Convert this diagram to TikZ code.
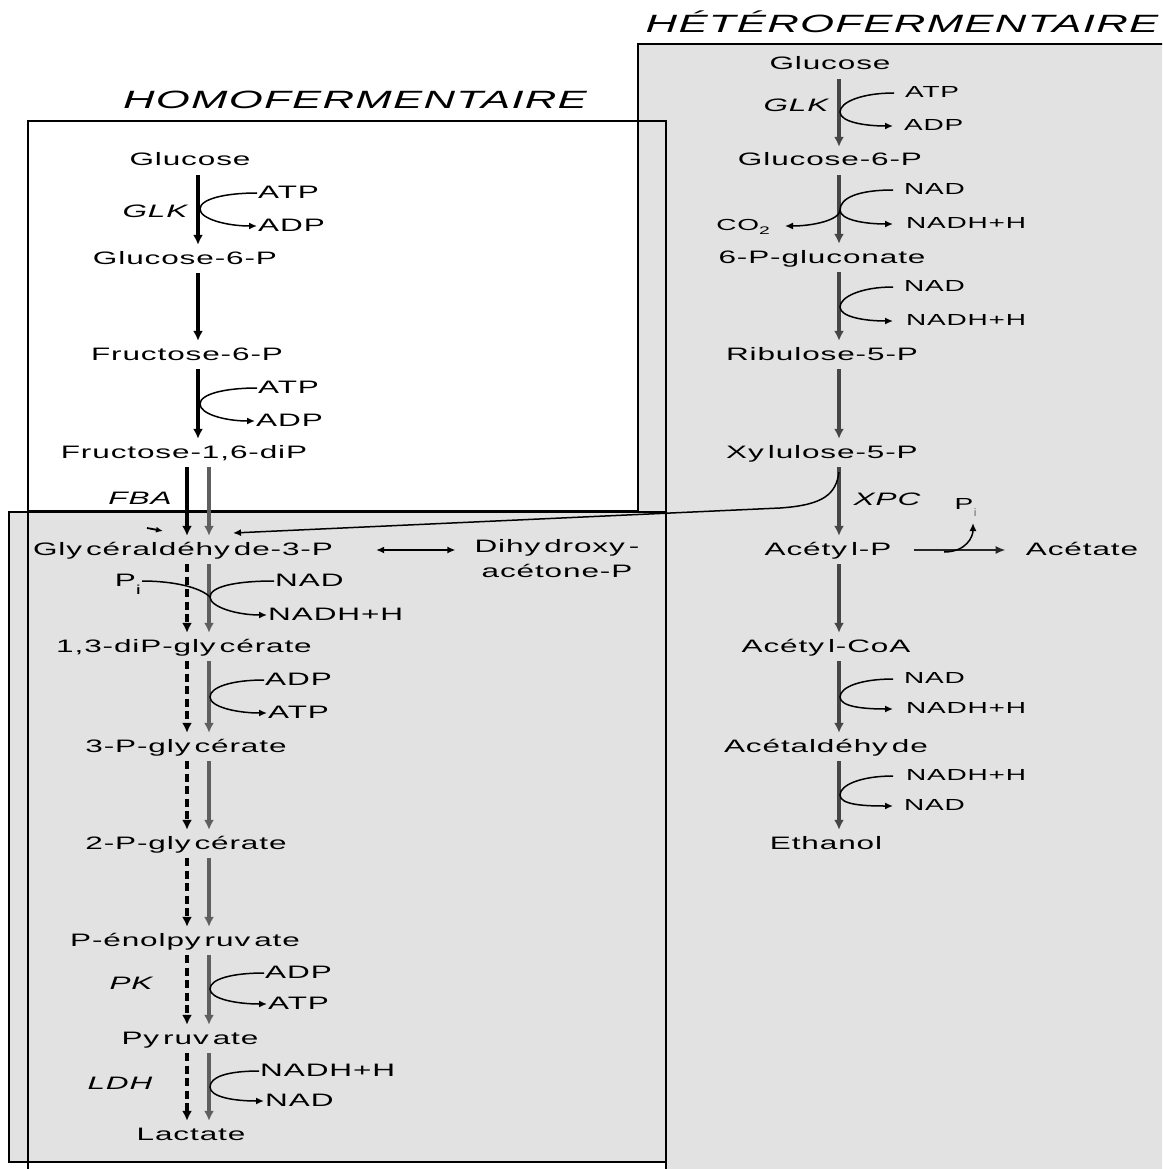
\documentclass[tikz,border=0pt]{standalone}
\usepackage{fontspec}
\usetikzlibrary{arrows.meta}
\newfontfamily\mf[FakeStretch=1.75,LetterSpace=5]{Liberation Sans}
\definecolor{boxgray}{RGB}{226,226,226}
\definecolor{arrgray}{RGB}{95,95,95}
\definecolor{hetgray}{RGB}{70,70,70}
\newcommand{\yg}{\hspace{4pt}}
\newcommand{\subi}{\raisebox{-8pt}{\fontsize{13}{13}\selectfont i}}
\begin{document}
\begin{tikzpicture}[x=1pt,y=-1pt,
  met/.style={font=\mf\fontsize{18}{20}\selectfont, inner xsep=1pt, inner ysep=6pt, text height=13pt, text depth=3pt},
  cof/.style={met, anchor=west},
  hcof/.style={font=\mf\fontsize{16}{18}\selectfont, inner xsep=1pt, inner ysep=5pt, text height=12pt, text depth=3pt, anchor=west},
  enz/.style={met, font=\mf\itshape\fontsize{18}{20}\selectfont},
  ttl/.style={font=\mf\itshape\fontsize{25}{28}\selectfont, inner sep=0pt},
  box/.style={draw=black, line width=2.2pt},
  mainarr/.style={line width=3.3pt, -{Latex[length=10pt,width=10pt]}},
  blk/.style={mainarr, black},
  gry/.style={mainarr, arrgray},
  dsh/.style={mainarr, black, line width=4pt, dash pattern=on 8pt off 4.5pt},
  het/.style={mainarr, hetgray},
  thinln/.style={line width=1.5pt, black},
  thinarr/.style={thinln, -{Latex[length=8pt,width=7pt]}}
]
\useasboundingbox (0,0) rectangle (1162,1169);
\clip (0,0) rectangle (1162,1169);

% ---------- boxes ----------
\fill[boxgray] (638,44) -- (1200,44) -- (1200,1200) -- (666,1200) -- (666,511) -- (638,511) -- cycle;
\draw[box] (1200,44) -- (638,44) -- (638,511);
\fill[boxgray] (9,512) rectangle (666,1162);
\draw[box] (9,512) rectangle (666,1162);
\fill[white] (28,121) rectangle (638,511);
\draw[box] (28,121) rectangle (638,511);
\draw[box] (28,1200) -- (28,121) -- (666,121) -- (666,1200);

% ---------- titles ----------
\node[ttl] (thomo) at (355,100) {HOMOFERMENTAIRE};
\node[ttl] (thet) at (902,22) {HÉTÉROFERMENTAIRE};

% ---------- axes ----------
\coordinate (axA) at (198,0);
\coordinate (axD) at (187,0);
\coordinate (axG) at (209,0);
\coordinate (axR) at (839,0);

% ---------- homofermentaire ----------
\node[met] (glcL) at (190,161) {Glucose};
\node[met] (g6pL) at (185,259) {Glucose-6-P};
\node[met] (f6p) at (187,355) {Fructose-6-P};
\node[met] (fbp) at (184,453) {Fructose-1,6-diP};
\node[met] (gap) at (183,550) {Gly\yg céraldéhy\yg de-3-P};
\node[font=\mf\fontsize{18}{25}\selectfont, align=center, inner sep=1pt] (dhap) at (557,559) {Dihy\yg droxy\yg -\\acétone-P};
\node[met] (bpg) at (184,647) {1,3-diP-gly\yg cérate};
\node[met] (pg3) at (186,747) {3-P-gly\yg cérate};
\node[met] (pg2) at (186,844) {2-P-gly\yg cérate};
\node[met] (pep) at (185,941) {P-énolpy\yg ruv\yg ate};
\node[met] (pyr) at (190,1039) {Py\yg ruv\yg ate};
\node[met] (lac) at (191,1135) {Lactate};

\node[enz] (glkL) at (155,212) {GLK};
\node[enz] (fba) at (140,499) {FBA};
\node[enz] (pk) at (131,984) {PK};
\node[enz] (ldh) at (120,1084) {LDH};

\node[cof] (atp1) at (257,193) {ATP};
\node[cof] (adp1) at (257,226) {ADP};
\node[cof] (atp2) at (257,388) {ATP};
\node[cof] (adp2) at (255,421) {ADP};
\node[cof] (nad3) at (274,581) {NAD};
\node[cof] (nadh3) at (267,615) {NADH+H};
\node[met] (pi3) at (128,581) {P\subi};
\node[cof] (adp4) at (264,680) {ADP};
\node[cof] (atp4) at (267,713) {ATP};
\node[cof] (adp5) at (264,973) {ADP};
\node[cof] (atp5) at (267,1004) {ATP};
\node[cof] (nadh6) at (259,1071) {NADH+H};
\node[cof] (nad6) at (264,1101) {NAD};

% main arrows (left)
\draw[blk] (glcL.south -| axA) -- (g6pL.north -| axA);
\draw[blk] (g6pL.south -| axA) -- (f6p.north -| axA);
\draw[blk] (f6p.south -| axA) -- (fbp.north -| axA);
\draw[blk] (fbp.south -| axD) -- (gap.north -| axD);
\draw[gry] (fbp.south -| axG) -- (gap.north -| axG);
\foreach \a/\b in {gap/bpg, bpg/pg3, pg3/pg2, pg2/pep, pep/pyr, pyr/lac}{
  \draw[dsh] (\a.south -| axD) -- (\b.north -| axD);
  \draw[gry] (\a.south -| axG) -- (\b.north -| axG);
}
\draw[thinln, <->, >={Latex[length=8pt,width=7pt]}, shorten <=42pt, shorten >=18pt] (gap.east) -- (gap.east -| dhap.west);

% junctions (left)
\coordinate (jL1) at (200,209);
\coordinate (jL2) at (200,404);
\coordinate (jL3) at (210,597);
\coordinate (jL4) at (210,697);
\coordinate (jL5) at (210,989);
\coordinate (jL6) at (210,1087);

\draw[thinarr] (atp1.west) .. controls +(-32,0) and +(0,-10) .. (jL1) .. controls +(0,10) and +(-30,0) .. (adp1.west);
\draw[thinarr] (atp2.west) .. controls +(-32,0) and +(0,-10) .. (jL2) .. controls +(0,10) and +(-30,0) .. (adp2.west);
\draw[thinln] (pi3.east) .. controls +(30,0) and +(-10,-10) .. (jL3);
\draw[thinarr] (nad3.west) .. controls +(-40,0) and +(0,-10) .. (jL3) .. controls +(0,10) and +(-30,0) .. (nadh3.west);
\draw[thinarr] (adp4.west) .. controls +(-32,0) and +(0,-10) .. (jL4) .. controls +(0,10) and +(-30,0) .. (atp4.west);
\draw[thinarr] (adp5.west) .. controls +(-32,0) and +(0,-10) .. (jL5) .. controls +(0,10) and +(-30,0) .. (atp5.west);
\draw[thinarr] (nadh6.west) .. controls +(-32,0) and +(0,-10) .. (jL6) .. controls +(0,10) and +(-30,0) .. (nad6.west);

% small mark
\coordinate (mk1) at (147,528);
\coordinate (mk2) at (163,531);
\draw[line width=1.8pt, -{Latex[length=7pt,width=6pt]}] (mk1) -- (mk2);

% ---------- heterofermentaire ----------
\node[met] (glcR) at (830,65) {Glucose};
\node[met] (g6pR) at (830,161) {Glucose-6-P};
\node[met] (pgn) at (822,258) {6-P-gluconate};
\node[met] (ru5p) at (822,355) {Ribulose-5-P};
\node[met] (xu5p) at (822,453) {Xy\yg lulose-5-P};
\node[met] (acp) at (828,550) {Acéty\yg l-P};
\node[met] (ac) at (1082,550) {Acétate};
\node[met] (accoa) at (826,647) {Acéty\yg l-CoA};
\node[met] (acald) at (826,747) {Acétaldéhy\yg de};
\node[met] (etoh) at (826,844) {Ethanol};
\node[enz] (glkR) at (796,107) {GLK};
\node[enz] (xpc) at (887,500) {XPC};

\node[hcof] (atpR) at (904,93) {ATP};
\node[hcof] (adpR) at (903,126) {ADP};
\node[hcof] (nadR2) at (903,190) {NAD};
\node[hcof] (nadhR2) at (905,224) {NADH+H};
\node[hcof, anchor=east] (co2) at (771,226) {CO\raisebox{-4pt}{\fontsize{11}{11}\selectfont 2}};
\node[hcof] (nadR3) at (903,287) {NAD};
\node[hcof] (nadhR3) at (905,321) {NADH+H};
\node[hcof] (nadR7) at (903,679) {NAD};
\node[hcof] (nadhR7) at (905,709) {NADH+H};
\node[hcof] (nadhR8) at (905,776) {NADH+H};
\node[hcof] (nadR8) at (903,806) {NAD};
\node[hcof, anchor=center] (piR) at (966,505) {P\raisebox{-7pt}{\fontsize{11}{11}\selectfont\color{black!40}i}};

\foreach \a/\b in {glcR/g6pR, g6pR/pgn, pgn/ru5p, ru5p/xu5p, xu5p/acp, acp/accoa, accoa/acald, acald/etoh}{
  \draw[het] (\a.south -| axR) -- (\b.north -| axR);
}

\coordinate (jR1) at (840,112);
\coordinate (jR2) at (840,210);
\coordinate (jR3) at (840,307);
\coordinate (jR7) at (840,697);
\coordinate (jR8) at (840,795);

\draw[thinarr] ([xshift=-10pt]atpR.west) .. controls +(-32,0) and +(0,-10) .. (jR1) .. controls +(0,10) and +(-28,0) .. ([xshift=-10pt]adpR.west);
\draw[thinln] ([xshift=-10pt]nadR2.west) .. controls +(-35,0) and +(0,-12) .. (jR2);
\draw[thinarr] (jR2) .. controls +(0,10) and +(-28,0) .. ([xshift=-12pt]nadhR2.west);
\draw[thinarr] (jR2) .. controls +(0,10) and +(28,0) .. ([xshift=14pt]co2.east);
\draw[thinarr] ([xshift=-10pt]nadR3.west) .. controls +(-32,0) and +(0,-10) .. (jR3) .. controls +(0,10) and +(-28,0) .. ([xshift=-12pt]nadhR3.west);
\draw[thinarr] ([xshift=-10pt]nadR7.west) .. controls +(-32,0) and +(0,-10) .. (jR7) .. controls +(0,10) and +(-28,0) .. ([xshift=-12pt]nadhR7.west);
\draw[thinarr] ([xshift=-12pt]nadhR8.west) .. controls +(-32,0) and +(0,-10) .. (jR8) .. controls +(0,10) and +(-28,0) .. ([xshift=-10pt]nadR8.west);

% acetyl-P -> acetate with Pi
\draw[line width=2pt, black!85, -{Latex[length=10pt,width=8pt]}, shorten <=21pt, shorten >=19pt] (acp.east) -- (ac.west);
\coordinate (pjR) at (944,552);
\coordinate (piTip) at (973,523);
\draw[thinarr] (pjR) .. controls +(22,0) and +(0,14) .. (piTip);

% XPC curve to glyceraldehyde-3-P
\coordinate (xs) at (839,472);
\coordinate (xpcEnd) at (233,533);
\draw[thinarr] (xs) .. controls (836,494) and (824,505) .. (780,508) -- (xpcEnd);
\end{tikzpicture}
\end{document}
